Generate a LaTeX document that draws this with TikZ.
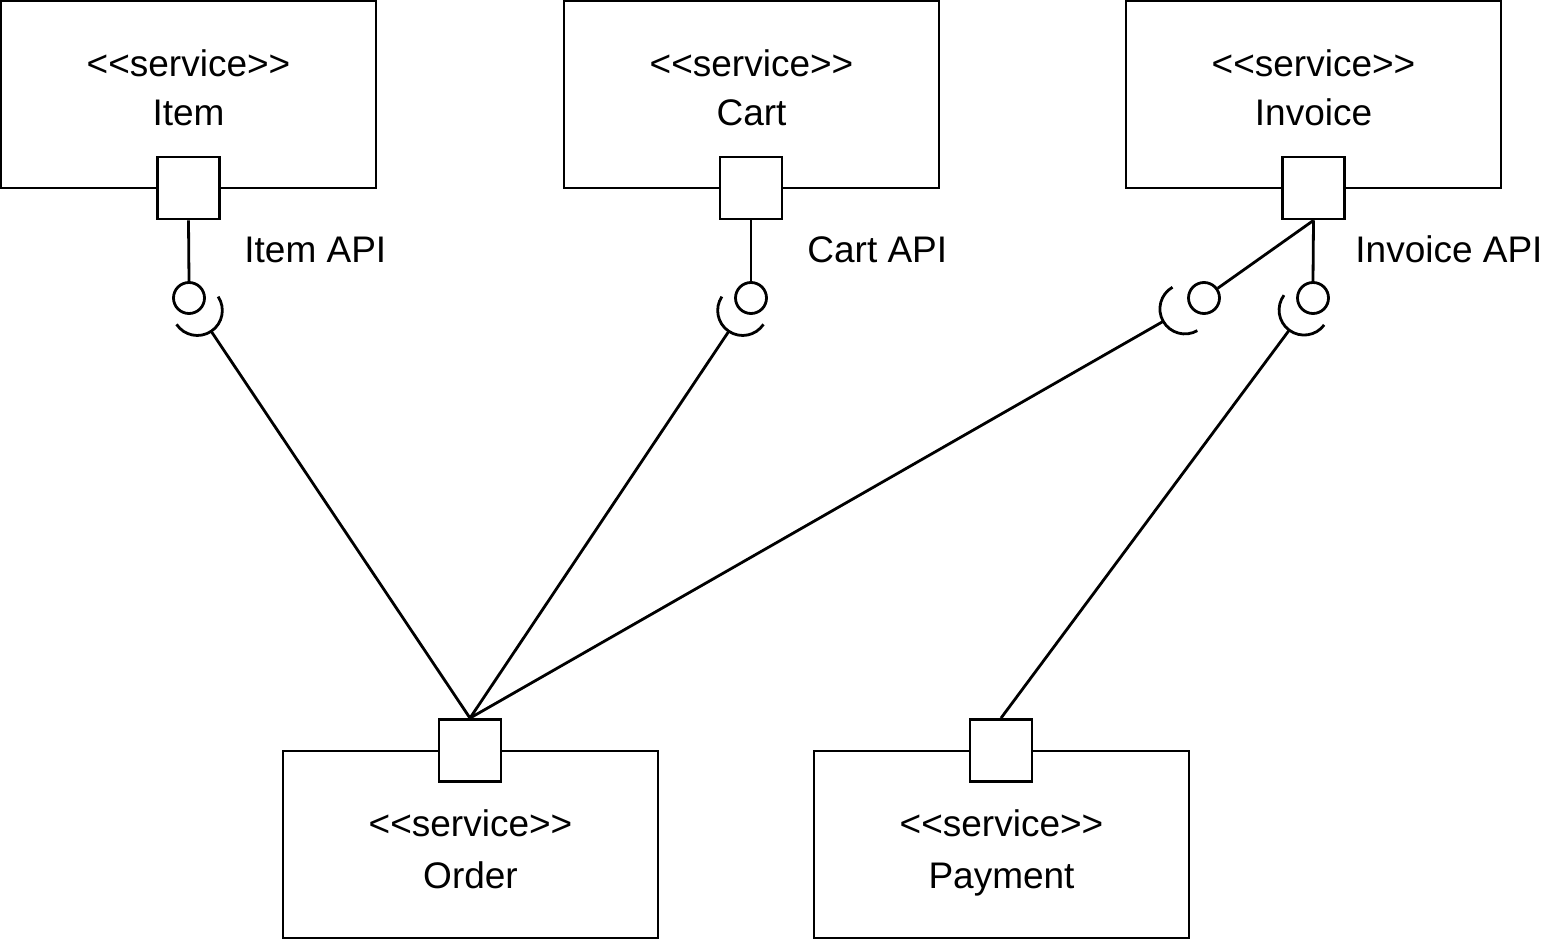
\documentclass[tikz,border=0pt]{standalone}
\usepackage{fontspec}
\setmainfont{Liberation Sans}
\usetikzlibrary{calc}
\newcommand{\stereo}{<\kern0pt<service>\kern0pt>}
\begin{document}
\begin{tikzpicture}[x=1pt,y=-1pt,line width=2.8pt,
  svc/.style={draw,rectangle,minimum width=375pt,minimum height=187pt,inner sep=0pt},
  port/.style={draw,rectangle,fill=white,minimum width=62pt,minimum height=62pt,inner sep=0pt},
  ball/.style={draw,circle,minimum size=31pt,inner sep=0pt},
  txt/.style={font=\fontsize{37}{44}\selectfont,inner sep=0pt,text height=27pt,text depth=8pt}]
\useasboundingbox (0,0) rectangle (1564,941);
% service boxes
\node[svc] (item) at (188.5,94.5) {};
\node[svc] (cart) at (751.5,94.5) {};
\node[svc] (invoice) at (1313.5,94.5) {};
\node[svc] (order) at (470.5,844.5) {};
\node[svc] (payment) at (1001.5,844.5) {};
% texts
\node[txt] (t1a) at (188.5,67) {\stereo};
\node[txt] (t1b) at (188.5,116) {Item};
\node[txt] (t2a) at (751.5,67) {\stereo};
\node[txt] (t2b) at (751.5,116) {Cart};
\node[txt] (t3a) at (1313.5,67) {\stereo};
\node[txt] (t3b) at (1313.5,116) {Invoice};
\node[txt] (t4a) at (470.5,827) {\stereo};
\node[txt] (t4b) at (470.5,879) {Order};
\node[txt] (t5a) at (1001.5,827) {\stereo};
\node[txt] (t5b) at (1001.5,879) {Payment};
\node[txt,anchor=west] (l1) at (243,253) {Item API};
\node[txt,anchor=west] (l2) at (806,253) {Cart API};
\node[txt,anchor=west] (l3) at (1354,253) {Invoice API};
% ports
\node[port] (pi) at (188.5,188) {};
\node[port] (pc) at (751,188) {};
\node[port] (pv) at (1313.5,188) {};
\node[port] (po) at (470,750.5) {};
\node[port] (pp) at (1001,750.5) {};
% balls
\node[ball] (b1) at (189,298) {};
\node[ball] (b2) at (751,298) {};
\node[ball] (b3) at (1204,298) {};
\node[ball] (b4) at (1313,298) {};
\draw (pi.south) -- (b1.north);
\draw (pc.south) -- (b2.north);
\draw (pv.south) -- (b3);
\draw (pv.south) -- (b4.north);
% sockets
\coordinate (s1) at ($(b1)+(-56.3:15pt)$);
\coordinate (s2) at ($(b2)+(-123.7:15pt)$);
\coordinate (s3) at ($(b3)+(-150.2:22pt)$);
\coordinate (s4) at ($(b4)+(-126.5:15pt)$);
\draw (s1) ++(-146.3:25pt) arc[start angle=-146.3,end angle=33.7,radius=25pt];
\draw (s2) ++(-213.7:25pt) arc[start angle=-213.7,end angle=-33.7,radius=25pt];
\draw (s3) ++(-240.2:25pt) arc[start angle=-240.2,end angle=-60.2,radius=25pt];
\draw (s4) ++(-216.5:25pt) arc[start angle=-216.5,end angle=-36.5,radius=25pt];
\coordinate (k1) at ($(s1)+(-56.3:25pt)$);
\coordinate (k2) at ($(s2)+(-123.7:25pt)$);
\coordinate (k3) at ($(s3)+(-150.2:25pt)$);
\coordinate (k4) at ($(s4)+(-126.5:25pt)$);
\draw (k1) -- (po.north);
\draw (k2) -- (po.north);
\draw (k3) -- (po.north);
\draw (k4) -- (pp.north);
\end{tikzpicture}
\end{document}
